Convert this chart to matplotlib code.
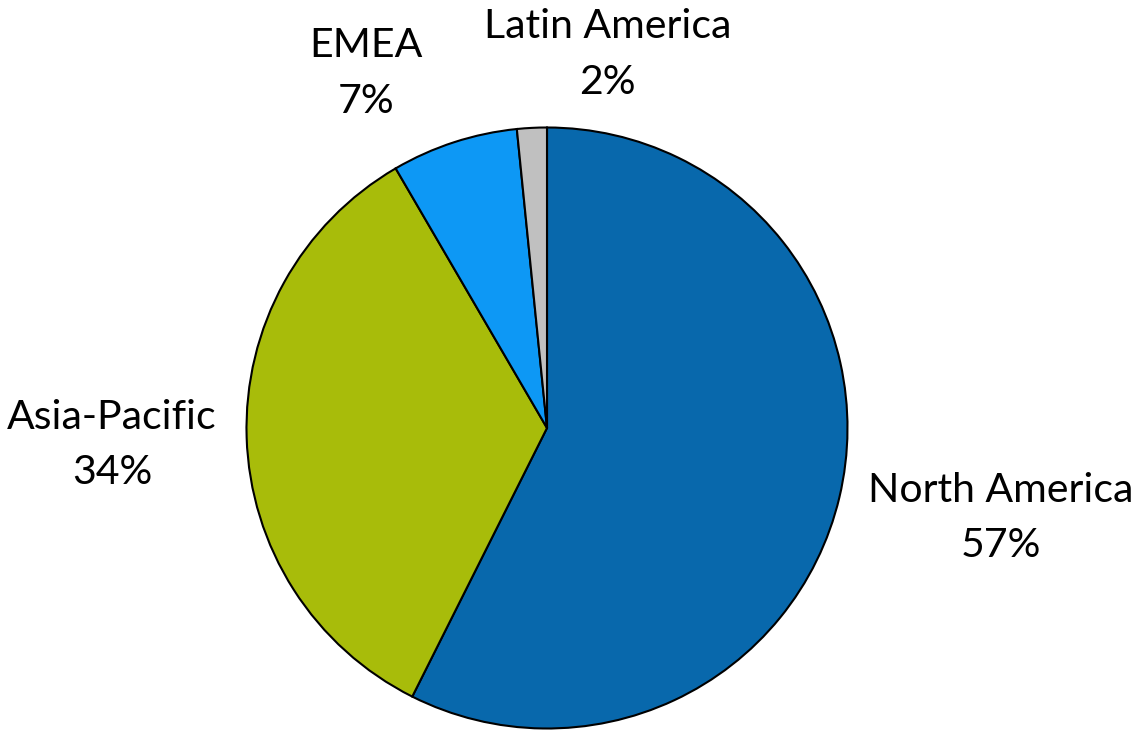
import matplotlib.pyplot as plt

regions = ['North America', 'Asia-Pacific', 'EMEA', 'Latin America']
shares = [57.4, 34.2, 6.8, 1.6]
colors = ['#0868ac', '#a8bc0a', '#0d98f5', '#c0c0c0']
# label centres in units of the pie radius
label_xy = [(1.51, -0.30), (-1.447, -0.056), (-0.603, 1.179), (0.202, 1.242)]

W, H = 1140, 733
fig = plt.figure(figsize=(W / 100, H / 100), dpi=100)
cx, cy, r = 547, 733 - 428, 302
ax = fig.add_axes([(cx - r) / W, (cy - r) / H, 2 * r / W, 2 * r / H])

ax.pie(shares, colors=colors, startangle=90, counterclock=False, radius=1,
       wedgeprops=dict(edgecolor='black', linewidth=1.5))
ax.set_xlim(-1.005, 1.005)
ax.set_ylim(-1.005, 1.005)
ax.set_aspect('equal')
ax.axis('off')

for name, val, (x, y) in zip(regions, shares, label_xy):
    ax.text(x, y, '{}\n{:.0f}%'.format(name, val), ha='center', va='center',
            fontsize=29.5, family='Lato', linespacing=1.62, clip_on=False)

fig.savefig('out.png')
